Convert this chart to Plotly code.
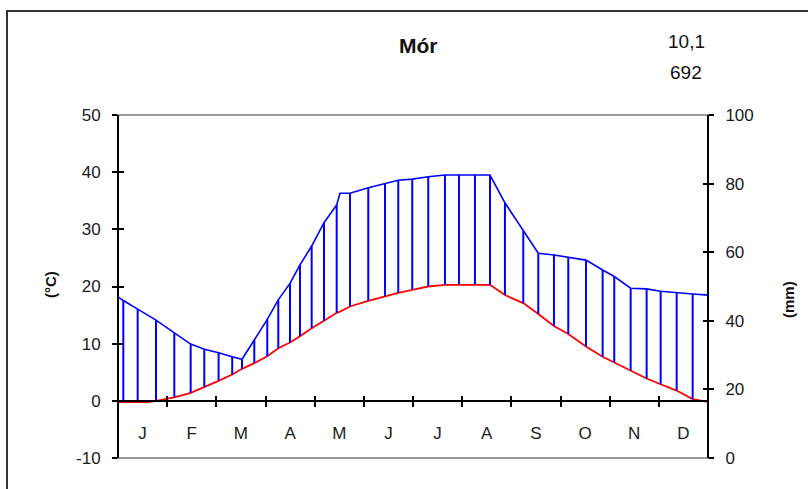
import plotly.graph_objects as go

# ---- data (x in month units: 0 = start of Jan, 12 = end of Dec) ----
months = ["J", "F", "M", "A", "M", "J", "J", "A", "S", "O", "N", "D"]
pos = [0, 0.108, 0.40, 0.61, 0.773, 1.145, 1.478, 1.755, 2.046, 2.323, 2.522, 2.772,
       3.036, 3.260, 3.498, 3.701, 3.939, 4.19, 4.448, 4.515, 4.718, 5.09, 5.43, 5.70,
       5.985, 6.31, 6.65, 6.935, 7.26, 7.566, 7.87, 8.243, 8.548, 8.867, 9.158, 9.518,
       9.857, 10.093, 10.427, 10.752, 11.037, 11.363, 11.688, 12]
precip_mm = [47.0, 45.9, 43.4, 41.7, 40.2, 36.5, 33.2, 31.7, 30.7, 29.5, 28.8, 34.4,
             40.4, 46.1, 50.9, 56.3, 61.8, 68.6, 73.8, 77.2, 77.2, 78.8, 80.1, 81.0,
             81.3, 82.0, 82.5, 82.5, 82.5, 82.5, 74.4, 66.2, 59.7, 59.2, 58.5, 57.7,
             54.8, 52.9, 49.5, 49.3, 48.6, 48.1, 47.8, 47.5]
temp_c = [-0.2, -0.2, -0.2, -0.2, 0.0, 0.6, 1.4, 2.4, 3.5, 4.6, 5.6, 6.6,
          7.8, 9.2, 10.2, 11.3, 12.7, 14.0, 15.4, 15.6, 16.5, 17.5, 18.3, 18.9,
          19.4, 20.0, 20.3, 20.3, 20.3, 20.3, 18.5, 17.1, 15.2, 13.1, 11.7, 9.5,
          7.7, 6.7, 5.3, 3.9, 2.9, 1.8, 0.3, -0.2]
hatched = [0, 1, 1, 0, 1, 1, 1, 1, 1, 1, 1, 1,
           1, 1, 1, 1, 1, 1, 1, 0, 1, 1, 1, 1,
           1, 1, 1, 1, 1, 1, 1, 1, 1, 1, 1, 1,
           1, 1, 1, 1, 1, 1, 1, 0]
temp_ticks = [-10, 0, 10, 20, 30, 40, 50]
temp_tick_text = ["-10", "0", "10", "20", "30", "40", "50"]
precip_ticks = [0, 20, 40, 60, 80, 100]
station = "Mór"
mean_temp_label = "10,1"
annual_precip_label = "692"

T_RANGE = [-10, 50]
P_RANGE = [0, 100]


def temp_to_mm(t):
    # both axes share the same pixel span
    return P_RANGE[0] + (t - T_RANGE[0]) * (P_RANGE[1] - P_RANGE[0]) / (T_RANGE[1] - T_RANGE[0])


hx, hy = [], []
for x, p, t, h in zip(pos, precip_mm, temp_c, hatched):
    if h:
        hx += [x, x, None]
        hy += [temp_to_mm(t), p, None]

fig = go.Figure()
fig.add_trace(go.Scatter(x=hx, y=hy, yaxis="y2", mode="lines",
                         line=dict(color="#0000FF", width=2), showlegend=False, hoverinfo="skip"))
fig.add_trace(go.Scatter(x=pos, y=precip_mm, yaxis="y2", mode="lines",
                         line=dict(color="#0000FF", width=1.6), showlegend=False))
fig.add_trace(go.Scatter(x=pos, y=temp_c, yaxis="y", mode="lines",
                         line=dict(color="#FF0000", width=1.8), showlegend=False))
# empty helper traces so the overlay axes (tick crosses, month labels) get drawn
for xa, ya in [("x2", "y3"), ("x3", "y4")]:
    fig.add_trace(go.Scatter(x=[None], y=[None], xaxis=xa, yaxis=ya, mode="lines",
                             showlegend=False, hoverinfo="skip"))

W, H = 808, 489
L, R, T, B = 118, 100, 115, 31
pw, ph = W - L - R, H - T - B


def px(x):
    return (x - L) / pw


def py(y):
    return (H - B - y) / ph


zero_pos = (0 - T_RANGE[0]) / (T_RANGE[1] - T_RANGE[0])
tickfont = dict(family="Liberation Sans, Arial, sans-serif", size=17, color="#1a1a1a")

common_x = dict(range=[0, 12], domain=[0, 1], showgrid=False, zeroline=False, fixedrange=True)
common_t = dict(range=T_RANGE, domain=[0, 1], showgrid=False, zeroline=False, tickvals=temp_ticks)
common_p = dict(range=P_RANGE, domain=[0, 1], showgrid=False, zeroline=False, tickvals=precip_ticks)

fig.update_layout(
    width=W, height=H,
    margin=dict(l=L, r=R, t=T, b=B),
    paper_bgcolor="white", plot_bgcolor="white",
    xaxis=dict(**common_x, anchor="free", position=zero_pos, tickvals=list(range(13)),
               ticks="outside", ticklen=5, tickwidth=1.5, tickcolor="black",
               showticklabels=False, showline=True, linecolor="black", linewidth=2),
    xaxis2=dict(**common_x, overlaying="x", anchor="free", position=zero_pos,
                tickvals=list(range(13)), ticks="inside", ticklen=5, tickwidth=1.5,
                tickcolor="black", showticklabels=False, showline=False),
    xaxis3=dict(**common_x, overlaying="x", anchor="free", position=0.107,
                tickvals=[i + 0.5 for i in range(12)], ticktext=months, ticks="",
                showline=False, tickfont=tickfont),
    yaxis=dict(**common_t, ticktext=temp_tick_text, anchor="free", position=0, side="left",
               ticks="outside", ticklen=5, tickwidth=1.5, tickcolor="black",
               showline=True, linecolor="black", linewidth=2, tickfont=tickfont,
               ticklabelstandoff=8),
    yaxis3=dict(**common_t, overlaying="y", anchor="free", position=0, side="left",
                ticks="inside", ticklen=5, tickwidth=1.5, tickcolor="black",
                showticklabels=False, showline=False),
    yaxis2=dict(**common_p, overlaying="y", anchor="free", position=1, side="right",
                ticks="outside", ticklen=5, tickwidth=1.5, tickcolor="black",
                showline=True, linecolor="black", linewidth=2, tickfont=tickfont,
                ticklabelstandoff=8),
    yaxis4=dict(**common_p, overlaying="y", anchor="free", position=1, side="right",
                ticks="inside", ticklen=5, tickwidth=1.5, tickcolor="black",
                showticklabels=False, showline=False),
    shapes=[
        dict(type="rect", xref="paper", yref="paper", x0=0, x1=1, y0=0, y1=1,
             line=dict(color="#9a9a9a", width=2), layer="below"),
        dict(type="rect", xref="paper", yref="paper", x0=px(7), x1=px(W + 20),
             y0=py(H + 20), y1=py(11), line=dict(color="#333", width=2), layer="below"),
    ],
    annotations=[
        dict(text="<b>" + station + "</b>", x=px(419), y=py(45), xref="paper", yref="paper",
             showarrow=False, xanchor="center", yanchor="middle",
             font=dict(family="Liberation Sans Narrow, Liberation Sans, Arial", size=21, color="#111")),
        dict(text=mean_temp_label, x=px(686), y=py(42), xref="paper", yref="paper",
             showarrow=False, xanchor="center", yanchor="middle",
             font=dict(family="Liberation Sans Narrow, Liberation Sans, Arial", size=19, color="#111")),
        dict(text=annual_precip_label, x=px(686), y=py(72), xref="paper", yref="paper",
             showarrow=False, xanchor="center", yanchor="middle",
             font=dict(family="Liberation Sans Narrow, Liberation Sans, Arial", size=19, color="#111")),
        dict(text="<b>(°C)</b>", x=px(50), y=py(285), xref="paper", yref="paper",
             showarrow=False, textangle=-90, xanchor="center", yanchor="middle",
             font=dict(family="Liberation Sans, Arial", size=15, color="#111")),
        dict(text="<b>(mm)</b>", x=px(788), y=py(300), xref="paper", yref="paper",
             showarrow=False, textangle=-90, xanchor="center", yanchor="middle",
             font=dict(family="Liberation Sans, Arial", size=15, color="#111")),
    ],
)

fig.write_html("out.html", config={"displayModeBar": False},
               post_script="document.body.style.margin='0';document.body.style.overflow='hidden';")
